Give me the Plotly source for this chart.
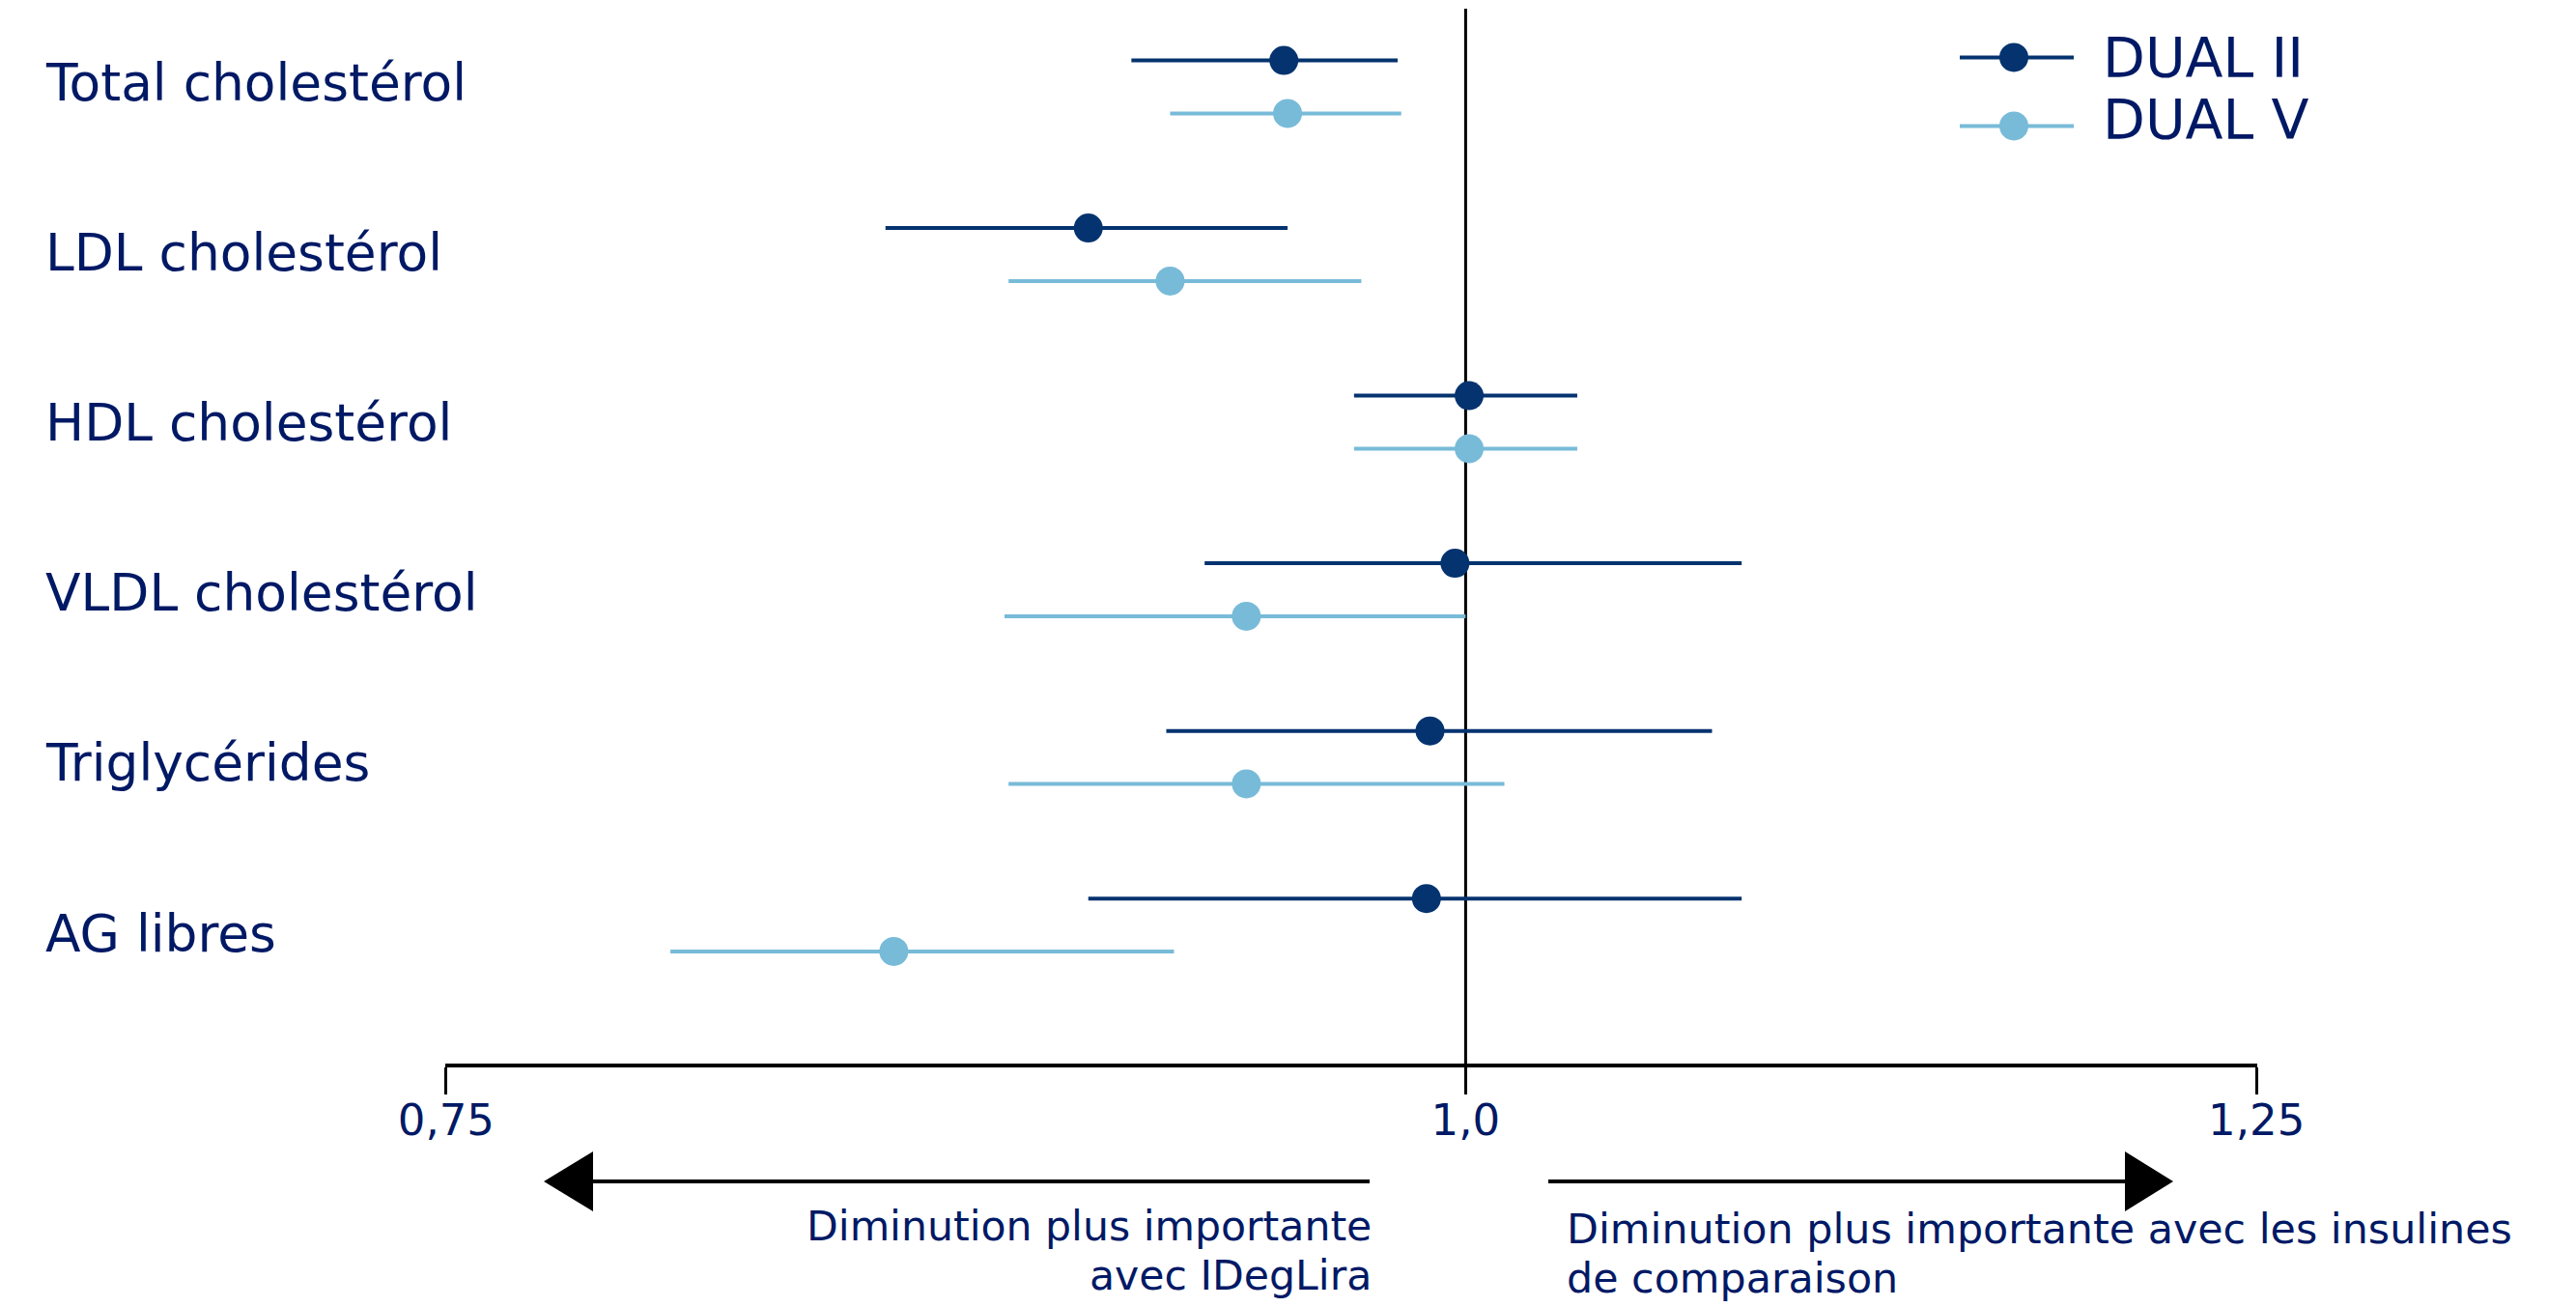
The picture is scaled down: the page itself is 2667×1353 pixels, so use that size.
import math
import plotly.graph_objects as go

# ---------------- data ----------------
categories = ["Total cholestérol", "LDL cholestérol", "HDL cholestérol",
              "VLDL cholestérol", "Triglycérides", "AG libres"]
series_names = ["DUAL II", "DUAL V"]

dual2_est = [0.950, 0.899, 1.001, 0.997, 0.990, 0.989]
dual2_lo = [0.910, 0.849, 0.969, 0.929, 0.919, 0.899]
dual2_hi = [0.981, 0.951, 1.032, 1.081, 1.072, 1.081]

dual5_est = [0.951, 0.920, 1.001, 0.940, 0.940, 0.851]
dual5_lo = [0.920, 0.879, 0.969, 0.878, 0.879, 0.799]
dual5_hi = [0.982, 0.971, 1.032, 1.000, 1.011, 0.921]

tick_vals = [0.75, 1.0, 1.25]
tick_text = ["0,75", "1,0", "1,25"]

left_note = ["Diminution plus importante", "avec IDegLira"]
right_note = ["Diminution plus importante avec les insulines", "de comparaison"]

# ---------------- style ----------------
W, H = 2667, 1353
L, R, T, B = 461, 2337, 8.5, 1101
TXT = "#001965"
DARK = "#04336F"
LIGHT = "#78BBD8"
FONT = "DejaVu Sans"
OFF = 0.158


def px(xp):
    return (xp - L) / (R - L)


def py(yp):
    return (B - yp) / (B - T)


fig = go.Figure()

series = [
    (series_names[0], dual2_est, dual2_lo, dual2_hi, DARK, -OFF),
    (series_names[1], dual5_est, dual5_lo, dual5_hi, LIGHT, OFF),
]
for name, est, lo, hi, col, off in series:
    fig.add_trace(go.Scatter(
        x=est,
        y=[i + off for i in range(len(categories))],
        mode="markers",
        name=name,
        showlegend=False,
        marker=dict(size=30, color=col),
        error_x=dict(type="data", symmetric=False,
                     array=[h - e for h, e in zip(hi, est)],
                     arrayminus=[e - l for e, l in zip(est, lo)],
                     thickness=4, width=0, color=col),
        hoverinfo="skip",
    ))

xlo, xhi = math.log10(tick_vals[0]), math.log10(tick_vals[-1])
pad = 1e-4
fig.update_xaxes(type="log", range=[xlo - pad, xhi + pad],
                 tickvals=tick_vals, ticktext=tick_text,
                 showline=True, linecolor="black", linewidth=4,
                 ticks="outside", ticklen=28, tickwidth=3, tickcolor="black",
                 ticklabelstandoff=-12,
                 tickfont=dict(size=45, color=TXT, family=FONT),
                 showgrid=False, zeroline=False)
fig.update_yaxes(range=[5.8266, -0.4666], showticklabels=False, showgrid=False,
                 zeroline=False, showline=False, ticks="")

shapes = []
# reference line at 1.0
x1p = (math.log10(1.0) - (xlo - pad)) / ((xhi + pad) - (xlo - pad))
shapes.append(dict(type="line", xref="paper", yref="paper", x0=x1p, x1=x1p,
                   y0=0, y1=1, line=dict(color="black", width=3), layer="below"))

# arrows
ay = 1223
shapes.append(dict(type="line", xref="paper", yref="paper",
                   x0=px(614), x1=px(1418), y0=py(ay), y1=py(ay),
                   line=dict(color="black", width=4)))
shapes.append(dict(type="path", xref="paper", yref="paper",
                   path=f"M {px(563)} {py(ay)} L {px(614)} {py(ay-31)} L {px(614)} {py(ay+31)} Z",
                   fillcolor="black", line=dict(color="black", width=0)))
shapes.append(dict(type="line", xref="paper", yref="paper",
                   x0=px(1603), x1=px(2200), y0=py(ay), y1=py(ay),
                   line=dict(color="black", width=4)))
shapes.append(dict(type="path", xref="paper", yref="paper",
                   path=f"M {px(2250)} {py(ay)} L {px(2200)} {py(ay-31)} L {px(2200)} {py(ay+31)} Z",
                   fillcolor="black", line=dict(color="black", width=0)))

annotations = []
# legend (drawn manually)
for (name, _, _, _, col, _), ly, ty in zip(series, [59, 130], [60, 124]):
    shapes.append(dict(type="line", xref="paper", yref="paper",
                       x0=px(2029), x1=px(2147), y0=py(ly), y1=py(ly),
                       line=dict(color=col, width=4)))
    shapes.append(dict(type="circle", xref="paper", yref="paper",
                       xsizemode="pixel", ysizemode="pixel",
                       xanchor=px(2085), yanchor=py(ly),
                       x0=-15, x1=15, y0=-15, y1=15,
                       fillcolor=col, line=dict(color=col, width=0)))
    annotations.append(dict(text=name, xref="paper", yref="paper",
                            x=px(2175), y=py(ty), xanchor="left", yanchor="middle",
                            showarrow=False, font=dict(size=57, color=TXT, family=FONT)))

# category labels
for i, c in enumerate(categories):
    annotations.append(dict(text=c, xref="paper", yref="paper", x=px(45),
                            y=py(85 + 176.2 * i),
                            xanchor="left", yanchor="middle", showarrow=False,
                            font=dict(size=53.4, color=TXT, family=FONT)))

for line, yc in zip(left_note, [1269, 1320]):
    annotations.append(dict(text=line, xref="paper", yref="paper",
                            x=px(1422), y=py(yc), xanchor="right", yanchor="middle",
                            showarrow=False,
                            font=dict(size=42.6, color=TXT, family=FONT)))
for line, yc in zip(right_note, [1272, 1323]):
    annotations.append(dict(text=line, xref="paper", yref="paper",
                            x=px(1620), y=py(yc), xanchor="left", yanchor="middle",
                            showarrow=False,
                            font=dict(size=42.8, color=TXT, family=FONT)))

fig.update_layout(width=W, height=H,
                  margin=dict(l=L, r=W - R, t=T, b=H - B, pad=0),
                  paper_bgcolor="white", plot_bgcolor="white",
                  font=dict(family=FONT, color=TXT),
                  shapes=shapes, annotations=annotations, showlegend=False)

fig.write_html("out.html", config={"displayModeBar": False},
               post_script="document.body.style.margin='0';document.body.style.overflow='hidden';")
